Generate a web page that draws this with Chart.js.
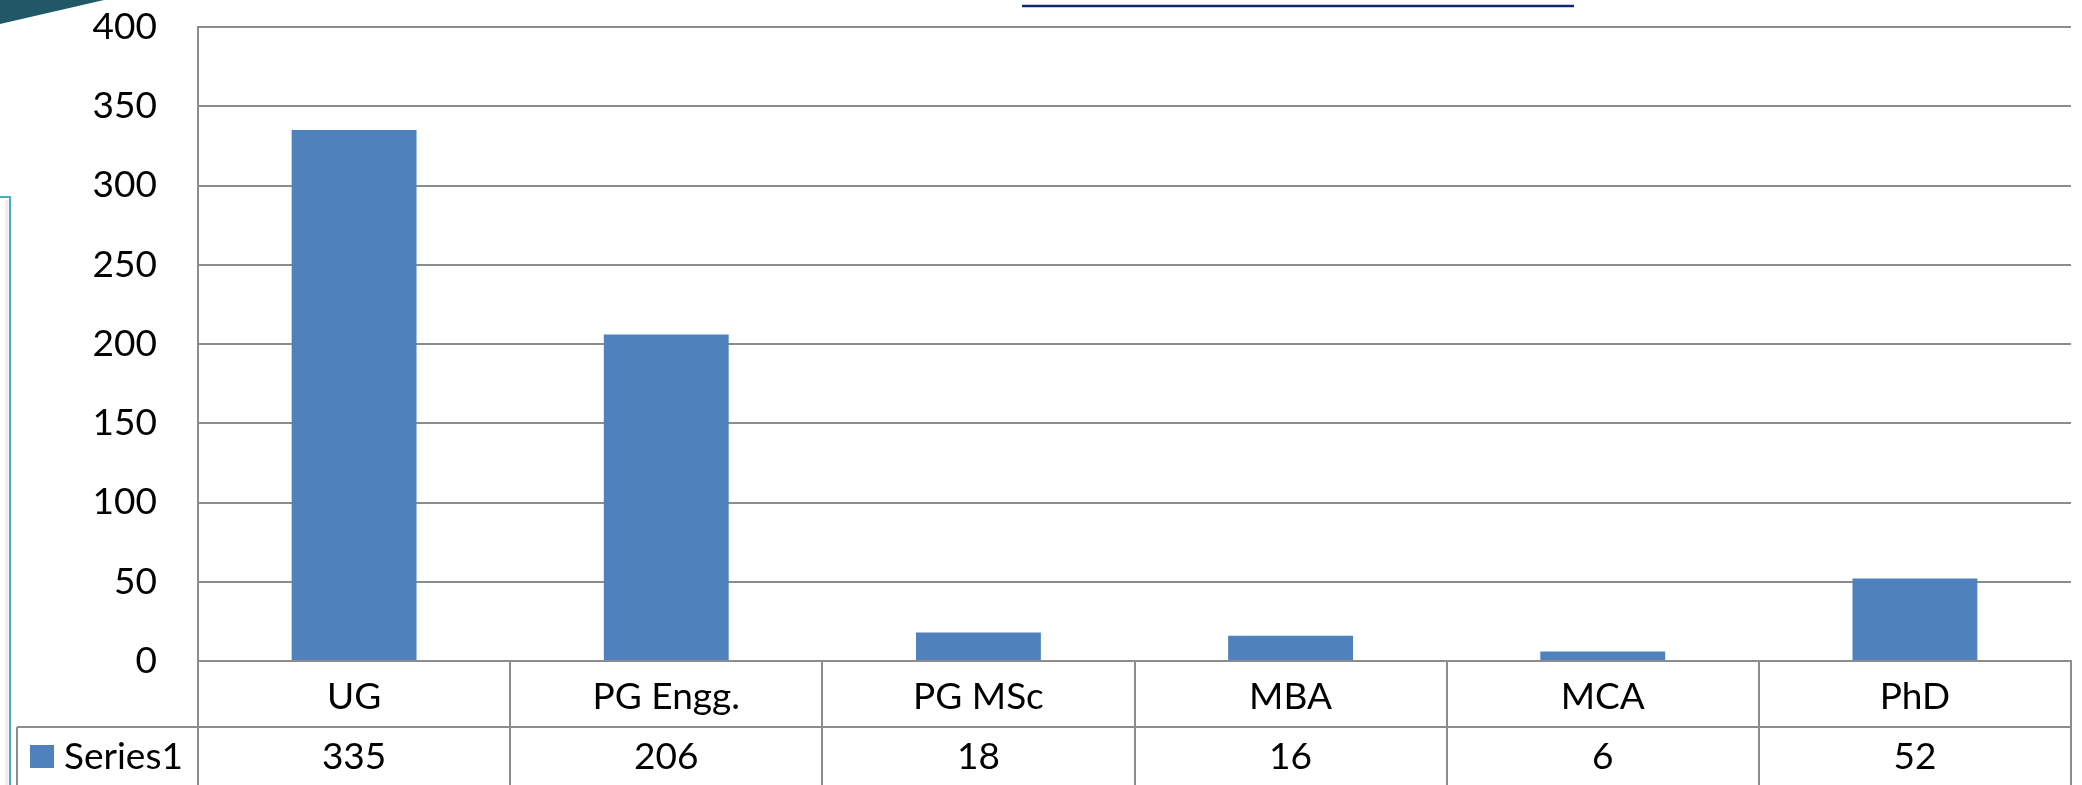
<!DOCTYPE html>
<html>
<head>
<meta charset="utf-8">
<script src="https://cdn.jsdelivr.net/npm/chart.js@4.4.1/dist/chart.umd.min.js"></script>
<style>
  html, body { margin: 0; padding: 0; background: #ffffff; overflow: hidden; }
  #wrap { width: 2082px; height: 785px; position: relative; }
</style>
</head>
<body>
<div id="wrap"><canvas id="grafico" width="2082" height="785"></canvas></div>
<script>
// dados do gráfico
var categorias = ["UG", "PG Engg.", "PG MSc", "MBA", "MCA", "PhD"];
var serie1 = [335, 206, 18, 16, 6, 52];
var nomeSerie = "Series1";
var ticksY = [0, 50, 100, 150, 200, 250, 300, 350, 400];

var azul = "#4f81bd";
var cinza = "#8c8c8c";
var fonte = "Lato, 'Open Sans', sans-serif";

// tabela de dados abaixo do eixo (estilo Excel) + enfeites do slide
var tabelaPlugin = {
    id: "tabela",
    beforeDraw: function (chart) {
        var ctx = chart.ctx;
        ctx.save();
        // canto superior esquerdo (faixa escura)
        ctx.fillStyle = "#215868";
        ctx.beginPath();
        ctx.moveTo(0, 0);
        ctx.lineTo(104, 0);
        ctx.lineTo(0, 24);
        ctx.closePath();
        ctx.fill();
        // caixa azul à esquerda
        ctx.strokeStyle = "#4bacc6";
        ctx.lineWidth = 2;
        ctx.beginPath();
        ctx.moveTo(0, 197);
        ctx.lineTo(10, 197);
        ctx.lineTo(10, chart.height);
        ctx.stroke();
        ctx.strokeStyle = "rgba(0,0,0,0.08)";
        ctx.lineWidth = 3;
        ctx.beginPath();
        ctx.moveTo(7, 200);
        ctx.lineTo(7, chart.height);
        ctx.stroke();
        // sublinhado do link no topo
        ctx.strokeStyle = "#0b2a70";
        ctx.lineWidth = 2.5;
        ctx.beginPath();
        ctx.moveTo(1022, 6);
        ctx.lineTo(1574, 6);
        ctx.stroke();
        ctx.restore();
    },
    afterDraw: function (chart) {
        var ctx = chart.ctx;
        var area = chart.chartArea;
        var x = chart.scales.x;
        var n = categorias.length;
        var larg = (area.right - area.left) / n;
        var linhaMeio = area.bottom + 66;
        var fundo = chart.height;

        ctx.save();
        ctx.strokeStyle = cinza;
        ctx.lineWidth = 2;
        ctx.beginPath();
        // divisórias verticais
        for (var i = 0; i <= n; i++) {
            var px = Math.round(area.left + i * larg);
            ctx.moveTo(px, area.bottom);
            ctx.lineTo(px, fundo);
        }
        // linha entre categorias e valores
        ctx.moveTo(17, linhaMeio);
        ctx.lineTo(area.right, linhaMeio);
        // borda esquerda da célula da legenda
        ctx.moveTo(17, linhaMeio);
        ctx.lineTo(17, fundo);
        ctx.stroke();

        // legenda
        ctx.fillStyle = azul;
        ctx.fillRect(30, 745, 24, 23);
        ctx.fillStyle = "#000000";
        ctx.font = "37px " + fonte;
        ctx.textBaseline = "middle";
        ctx.textAlign = "left";
        ctx.fillText(nomeSerie, 64, 757);

        // valores
        ctx.textAlign = "center";
        for (var j = 0; j < n; j++) {
            ctx.fillText(String(serie1[j]), x.getPixelForValue(j), 757);
        }
        ctx.restore();
    }
};

var ctx = document.getElementById("grafico").getContext("2d");
var grafico = new Chart(ctx, {
    type: "bar",
    data: {
        labels: categorias,
        datasets: [{
            label: nomeSerie,
            data: serie1,
            backgroundColor: azul,
            borderWidth: 0,
            categoryPercentage: 1,
            barPercentage: 0.4
        }]
    },
    options: {
        responsive: false,
        animation: false,
        layout: { padding: { top: 27, right: 11, left: 0, bottom: 0 } },
        plugins: {
            legend: { display: false },
            tooltip: { enabled: false }
        },
        scales: {
            x: {
                grid: { display: false, drawTicks: false },
                border: { display: true, color: cinza, width: 2 },
                ticks: {
                    color: "#000000",
                    font: { family: fonte, size: 37 },
                    padding: 14,
                    maxRotation: 0,
                    autoSkip: false
                },
                afterFit: function (scale) {
                    scale.height = 124;
                    scale.paddingLeft = 0;
                    scale.paddingRight = 0;
                }
            },
            y: {
                min: 0,
                max: 400,
                afterBuildTicks: function (scale) {
                    scale.ticks = ticksY.map(function (v) { return { value: v }; });
                },
                grid: { color: cinza, lineWidth: 2, drawTicks: false },
                border: { display: true, color: cinza, width: 2 },
                ticks: {
                    color: "#000000",
                    font: { family: fonte, size: 37 },
                    padding: 41
                },
                afterFit: function (scale) {
                    scale.width = 198;
                    scale.paddingTop = 0;
                    scale.paddingBottom = 0;
                }
            }
        }
    },
    plugins: [tabelaPlugin]
});
</script>
</body>
</html>
